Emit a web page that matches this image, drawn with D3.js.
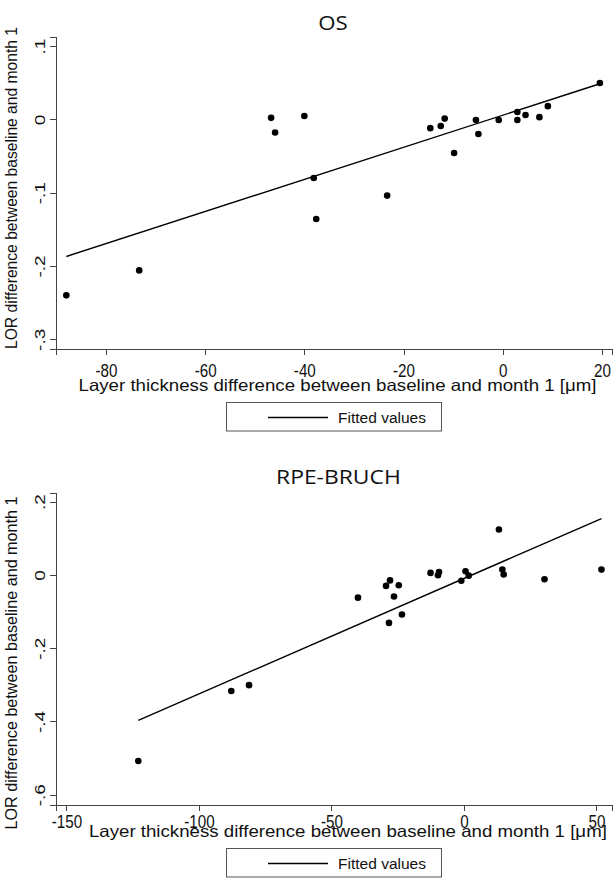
<!DOCTYPE html>
<html>
<head>
<meta charset="utf-8">
<script src="https://cdn.jsdelivr.net/npm/d3@7"></script>
<style>
  body { margin: 0; background: #fff; }
  svg { display: block; }
  .axis path, .axis line { stroke: #444; stroke-width: 1; shape-rendering: crispEdges; }
  .axis text { font-family: "Liberation Sans", Arial, sans-serif; font-size: 19px; fill: #111; }
  .axis-title { font-family: "Liberation Sans", Arial, sans-serif; font-size: 16.5px; fill: #111; }
  .plot-title { font-family: "Open Sans", "Noto Sans", sans-serif; font-size: 20px; fill: #111; }
  .legend-text { font-family: "Liberation Sans", Arial, sans-serif; font-size: 15.5px; fill: #111; }
</style>
</head>
<body>
<div id="chart"></div>
<script>
// ---- data ----
const osX = [-88.0, -73.3, -46.7, -45.9, -40.0, -38.1, -37.6, -23.3, -14.6, -12.5, -11.7,
             -9.8, -5.4, -4.9, -0.8, 2.95, 2.95, 4.6, 7.4, 9.1, 19.6];
const osY = [-0.240, -0.206, 0.002, -0.018, 0.0045, -0.080, -0.136, -0.104, -0.012, -0.009, 0.001,
             -0.046, -0.001, -0.020, -0.001, 0.010, -0.001, 0.006, 0.003, 0.018, 0.0495];
const osFitX = [-88.0, 19.6];
const osFitY = [-0.187, 0.0485];

const rpeX = [-122.9, -87.8, -81.1, -40.0, -29.4, -27.9, -26.4, -24.6, -28.3, -23.4, -12.6,
              -9.8, -9.4, -1.0, 0.6, 1.8, 13.2, 14.5, 15.0, 30.4, 51.9];
const rpeY = [-0.508, -0.317, -0.301, -0.062, -0.030, -0.015, -0.059, -0.028, -0.131, -0.108, 0.0055,
              -0.001, 0.008, -0.016, 0.010, -0.002, 0.124, 0.0145, 0.001, -0.012, 0.0145];
const rpeFitX = [-122.9, 51.9];
const rpeFitY = [-0.397, 0.154];

const osXTicks = [-80, -60, -40, -20, 0, 20];
const osYTicks = [-0.3, -0.2, -0.1, 0, 0.1];
const rpeXTicks = [-150, -100, -50, 0, 50];
const rpeYTicks = [-0.6, -0.4, -0.2, 0, 0.2];

const xTitle = 'Layer thickness difference between baseline and month 1 [\u03bcm]';
const yTitle = 'LOR difference between baseline and month 1';
const legendLabel = 'Fitted values';

// ---- layout ----
const width = 613, height = 884;

const svg = d3.select('#chart').append('svg')
    .attr('width', width)
    .attr('height', height);

// Stata-style number format: ".1", "-.2", "0"
const stataFmt = d => {
  if (d === 0) return '0';
  const s = String(+d.toFixed(3));          // e.g. "-0.2"
  return s.replace(/^(-?)0\./, '$1.');      // -> "-.2"
};

function drawPanel(cfg) {
  const g = svg.append('g');

  const x = d3.scaleLinear().domain(cfg.xDomain).range([cfg.left, cfg.right]);
  const y = d3.scaleLinear().domain(cfg.yDomain).range([cfg.bottom, cfg.top]);

  // title
  g.append('text')
      .attr('class', 'plot-title')
      .attr('x', cfg.titleX)
      .attr('y', cfg.titleY)
      .attr('text-anchor', 'middle')
      .attr('textLength', cfg.titleLen)
      .attr('lengthAdjust', 'spacingAndGlyphs')
      .text(cfg.title);

  // x axis
  const xAxis = g.append('g')
      .attr('class', 'axis')
      .attr('transform', `translate(0,${cfg.bottom})`)
      .call(d3.axisBottom(x).tickValues(cfg.xTicks).tickSizeOuter(0).tickSize(6).tickFormat(d => String(d)));
  xAxis.selectAll('text')
      .attr('y', 0)
      .attr('dy', 0)
      .attr('transform', `translate(0,${cfg.xTickDy}) scale(0.8,1)`);

  // y axis, labels rotated like Stata
  const yAxis = g.append('g')
      .attr('class', 'axis')
      .attr('transform', `translate(${cfg.left},0)`)
      .call(d3.axisLeft(y).tickValues(cfg.yTicks).tickSizeOuter(0).tickSize(6).tickFormat(stataFmt));
  yAxis.selectAll('text')
      .attr('x', 0)
      .attr('dy', 0)
      .attr('text-anchor', 'middle')
      .attr('transform', 'translate(-11,0) scale(0.75,1) rotate(-90)');

  // axis titles
  g.append('text')
      .attr('class', 'axis-title')
      .attr('x', cfg.xTitleX)
      .attr('y', cfg.xTitleY)
      .attr('text-anchor', 'middle')
      .attr('textLength', 518)
      .attr('lengthAdjust', 'spacingAndGlyphs')
      .text(xTitle);

  g.append('text')
      .attr('class', 'axis-title')
      .attr('transform', `translate(16.5,${cfg.yTitleY}) rotate(-90)`)
      .attr('text-anchor', 'middle')
      .attr('textLength', cfg.yTitleLen)
      .attr('lengthAdjust', 'spacingAndGlyphs')
      .text(yTitle);

  // fitted line
  const fit = cfg.fitX.map((v, i) => [v, cfg.fitY[i]]);
  g.append('path')
      .datum(fit)
      .attr('fill', 'none')
      .attr('stroke', '#000')
      .attr('stroke-width', 1.4)
      .attr('d', d3.line().x(d => x(d[0])).y(d => y(d[1])));

  // points
  const pts = cfg.xs.map((v, i) => [v, cfg.ys[i]]);
  g.append('g')
    .selectAll('circle')
    .data(pts)
    .join('circle')
      .attr('cx', d => x(d[0]))
      .attr('cy', d => y(d[1]))
      .attr('r', 3.3)
      .attr('fill', '#000');

  // legend
  const lg = g.append('g').attr('transform', `translate(226,${cfg.legendTop})`);
  lg.append('rect')
      .attr('x', 0.5).attr('y', 0.5)
      .attr('width', 215).attr('height', 28.5)
      .attr('fill', '#fff')
      .attr('stroke', '#555')
      .attr('stroke-width', 1);
  lg.append('line')
      .attr('x1', 42).attr('x2', 102)
      .attr('y1', 15.5).attr('y2', 15.5)
      .attr('stroke', '#000')
      .attr('stroke-width', 1.4);
  lg.append('text')
      .attr('class', 'legend-text')
      .attr('x', 112)
      .attr('y', 20.5)
      .attr('textLength', 88)
      .attr('lengthAdjust', 'spacingAndGlyphs')
      .text(legendLabel);
}

drawPanel({
  title: 'OS', titleX: 333, titleY: 30, titleLen: 29.5,
  xs: osX, ys: osY, fitX: osFitX, fitY: osFitY,
  xTicks: osXTicks, yTicks: osYTicks,
  xDomain: [-90.1, 22.0], yDomain: [-0.3136, 0.1127],
  left: 55.9, right: 611.8, top: 36.7, bottom: 349.3,
  xTickDy: 28, xTitleX: 337.5, xTitleY: 390.7,
  yTitleY: 188, yTitleLen: 322,
  legendTop: 402
});

drawPanel({
  title: 'RPE-BRUCH', titleX: 338.4, titleY: 484, titleLen: 124.7,
  xs: rpeX, ys: rpeY, fitX: rpeFitX, fitY: rpeFitY,
  xTicks: rpeXTicks, yTicks: rpeYTicks,
  xDomain: [-154, 55.8], yDomain: [-0.629, 0.2245],
  left: 55.9, right: 611.8, top: 492.7, bottom: 805.3,
  xTickDy: 23, xTitleX: 347.9, xTitleY: 836.5,
  yTitleY: 663, yTitleLen: 333,
  legendTop: 848
});
</script>
</body>
</html>
